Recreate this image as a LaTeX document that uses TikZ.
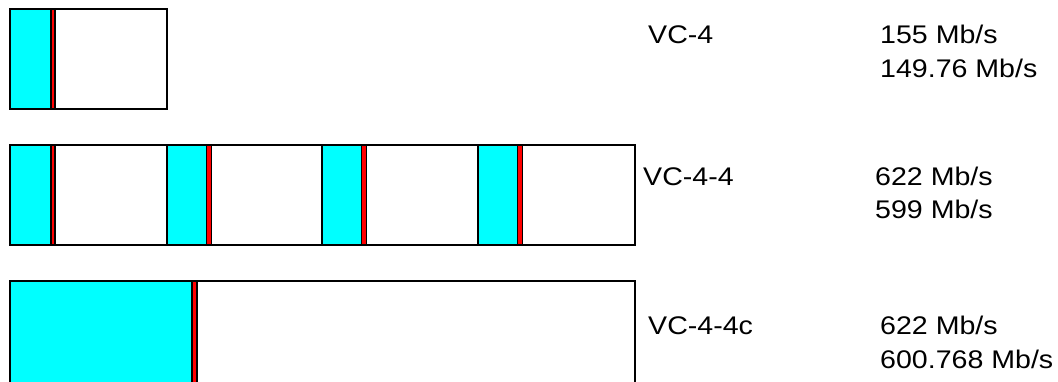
\documentclass[tikz,border=0pt]{standalone}
\usepackage{fontspec}
\setmainfont{Liberation Sans}[FakeStretch=1.12]
\definecolor{aqua}{RGB}{0,255,255}
\begin{document}
\begin{tikzpicture}[x=1pt,y=-1pt,
  frame/.style={draw=black,line width=2pt,fill=white},
  payload/.style={draw=black,line width=1.6pt,fill=aqua},
  marker/.style={draw=black,line width=1.6pt,fill=red},
  lbl/.style={anchor=base west,inner sep=0pt,font=\fontsize{25.5}{30}\selectfont}]
\useasboundingbox (0,0) rectangle (1058,381);
\clip (0,0) rectangle (1058,381);
% row 1
\draw[frame] (10,9) rectangle (167,109);
\draw[payload] (10,9) rectangle (51,109);
\draw[marker] (51,9) rectangle (55,109);
% row 2
\draw[frame] (10,145) rectangle (635,245);
\draw[payload] (10,145) rectangle (51,245);
\draw[marker] (51,145) rectangle (55,245);
\foreach \x in {167,322,478}{
  \draw[payload] (\x,145) rectangle (\x+39.5,245);
  \draw[marker] (\x+39.5,145) rectangle (\x+44.5,245);
}
% row 3
\draw[frame] (10,281) rectangle (635,400);
\draw[payload] (10,281) rectangle (192,400);
\draw[marker] (192,281) rectangle (197,400);
% labels
\node[lbl] (n1) at (648,43) {VC-4};
\node[lbl] (r1a) at (880,43) {155 Mb/s};
\node[lbl] (r1b) at (880,77) {149.76 Mb/s};
\node[lbl] (n2) at (643,185) {VC-4-4};
\node[lbl] (r2a) at (875,185) {622 Mb/s};
\node[lbl] (r2b) at (875,218) {599 Mb/s};
\node[lbl] (n3) at (648,334) {VC-4-4c};
\node[lbl] (r3a) at (880,334) {622 Mb/s};
\node[lbl] (r3b) at (880,368) {600.768 Mb/s};
\end{tikzpicture}
\end{document}
